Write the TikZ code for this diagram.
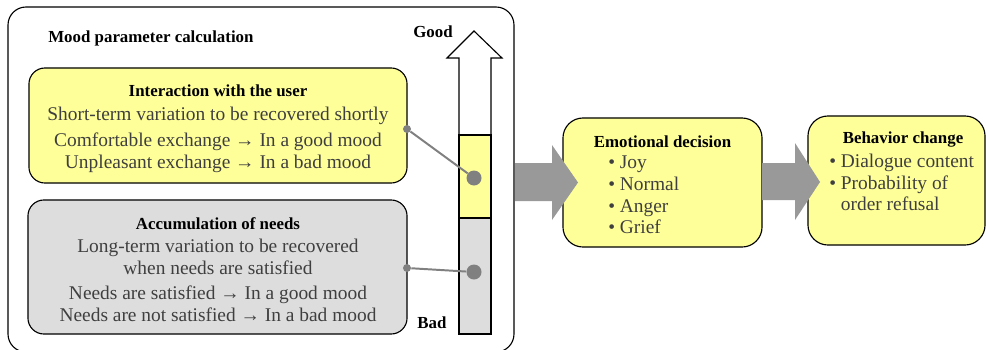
\documentclass[tikz,border=0pt]{standalone}
\usepackage{fontspec}
\setmainfont{Liberation Serif}
\usetikzlibrary{positioning}

\definecolor{paleyel}{HTML}{FFFF99}
\definecolor{palegray}{HTML}{DDDDDD}
\definecolor{bigarrow}{HTML}{999999}
\definecolor{dotgray}{HTML}{808080}
\definecolor{bodytext}{HTML}{3F3F3F}

\begin{document}
\begin{tikzpicture}[x=0.025cm, y=-0.025cm, every node/.style={inner sep=0pt}]
  \tikzstyle{box}=[draw, thick, rounded corners=0.4cm]
  \tikzstyle{head}=[font=\fontsize{12}{14}\selectfont\bfseries]
  \tikzstyle{body}=[text=bodytext, font=\fontsize{13.8}{15.3}\selectfont]
  \tikzstyle{link}=[dotgray, line width=1.4pt]
  \tikzstyle{bigdot}=[circle, fill=dotgray, minimum size=0.375cm]
  \tikzstyle{smalldot}=[circle, fill=dotgray, minimum size=0.2cm]
  \useasboundingbox (0,0) rectangle (986,349);

  % left frame
  \draw[thick, rounded corners=0.45cm] (8,7) rectangle (514,352);
  \node[head, anchor=west] (moodtitle) at (48,38) {Mood parameter calculation};

  \node[box, fill=paleyel, minimum width=9.45cm, minimum height=2.875cm] (usr) at (218,125.5) {};
  \node[head] (usrtitle) at (218,91) {Interaction with the user};
  \node[body, align=center, anchor=north] (usrtext) at (218,106.5)
    {Short-term variation to be recovered shortly\\[3.5pt]
     Comfortable exchange → In a good mood\\
     Unpleasant exchange → In a bad mood};

  \node[box, fill=palegray, minimum width=9.475cm, minimum height=3.35cm] (need) at (217.5,267) {};
  \node[head] (needtitle) at (218,224) {Accumulation of needs};
  \node[body, align=center, anchor=north] (needtext) at (218,239)
    {Long-term variation to be recovered\\
     when needs are satisfied\\[3pt]
     Needs are satisfied → In a good mood\\
     Needs are not satisfied → In a bad mood};

  % mood scale
  \draw[thick, fill=white] (459,334) -- (459,58) -- (447,58) -- (474,31) -- (502,58) -- (491,58) -- (491,334) -- cycle;
  \draw[thick, fill=paleyel] (459,135) rectangle (491,218);
  \draw[thick, fill=palegray] (459,218) rectangle (491,334);
  \node[head] (good) at (433,32) {Good};
  \node[head] (bad) at (432,323) {Bad};

  \node[smalldot] (usrdot) at (407,129) {};
  \node[bigdot] (usrlevel) at (474,178) {};
  \node[smalldot] (needdot) at (407,268) {};
  \node[bigdot] (needlevel) at (474,272) {};
  \draw[link] (usrdot) -- (usrlevel);
  \draw[link] (needdot) -- (needlevel);

  % decision and behavior
  \node[box, fill=paleyel, rounded corners=0.5cm, minimum width=4.975cm, minimum height=3.225cm] (emo) at (662.5,182.5) {};
  \node[head] (emotitle) at (662.5,142) {Emotional decision};
  \node[body, align=left, anchor=north west] (emotext) at (608,156)
    {\textbullet\ Joy\\ \textbullet\ Normal\\ \textbullet\ Anger\\ \textbullet\ Grief};

  \node[box, fill=paleyel, rounded corners=0.5cm, minimum width=4.425cm, minimum height=3.225cm] (behav) at (896.5,180.5) {};
  \node[head] (behavtitle) at (903,140) {Behavior change};
  \node[body, align=left, anchor=north west] (behavtext) at (829,154)
    {\textbullet\ Dialogue content\\ \textbullet\ Probability of\\ \hphantom{\textbullet\ }order refusal};

  % flow arrows
  \fill[bigarrow] (515,163) -- (552,163) -- (552,145) -- (578,182.5) -- (552,220) -- (552,201) -- (515,201) -- cycle;
  \fill[bigarrow] (762,163) -- (795,163) -- (795,143) -- (820,182) -- (795,220) -- (795,200) -- (762,200) -- cycle;
\end{tikzpicture}
\end{document}
